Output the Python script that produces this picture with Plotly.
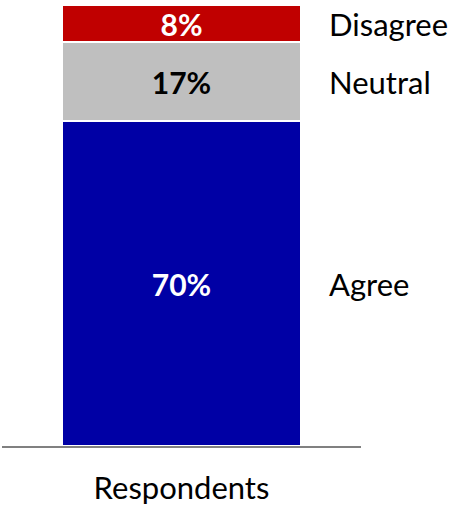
import plotly.graph_objects as go

categories = ["Respondents"]
series_names = ["Agree", "Neutral", "Disagree"]
values = [70, 17, 8]
colors = ["#0000A5", "#BFBFBF", "#C00000"]
text_colors = ["white", "black", "white"]

fig = go.Figure()
for name, v, c, tc in zip(series_names, values, colors, text_colors):
    fig.add_trace(go.Bar(
        x=categories, y=[v], name=name,
        marker=dict(color=c, line=dict(color="white", width=2)),
        text=[f"{v}%"], textposition="inside", insidetextanchor="middle",
        constraintext="none",
        textfont=dict(family="Lato, sans-serif", size=30, color=tc, weight="bold"),
        textangle=0,
    ))

# series labels on the right
cum = 0
for name, v in zip(series_names, values):
    fig.add_annotation(
        x=0.906, xref="paper", y=cum + v / 2, yref="y",
        text=name, showarrow=False, xanchor="left", yanchor="middle",
        font=dict(family="Lato, sans-serif", size=31, color="black"),
    )
    cum += v

fig.update_layout(
    barmode="stack", bargap=0.337,
    width=458, height=508,
    margin=dict(l=2, r=97, t=5, b=62, autoexpand=False),
    plot_bgcolor="white", paper_bgcolor="white",
    showlegend=False,
    xaxis=dict(showline=True, linecolor="#808080", linewidth=1.5,
               ticks="", ticklabelstandoff=14, automargin=False,
               tickfont=dict(family="Lato, sans-serif", size=31, color="black"),
               showgrid=False, zeroline=False),
    yaxis=dict(range=[0, 95], visible=False, showgrid=False, zeroline=False),
)

fig.write_html("out.html")
